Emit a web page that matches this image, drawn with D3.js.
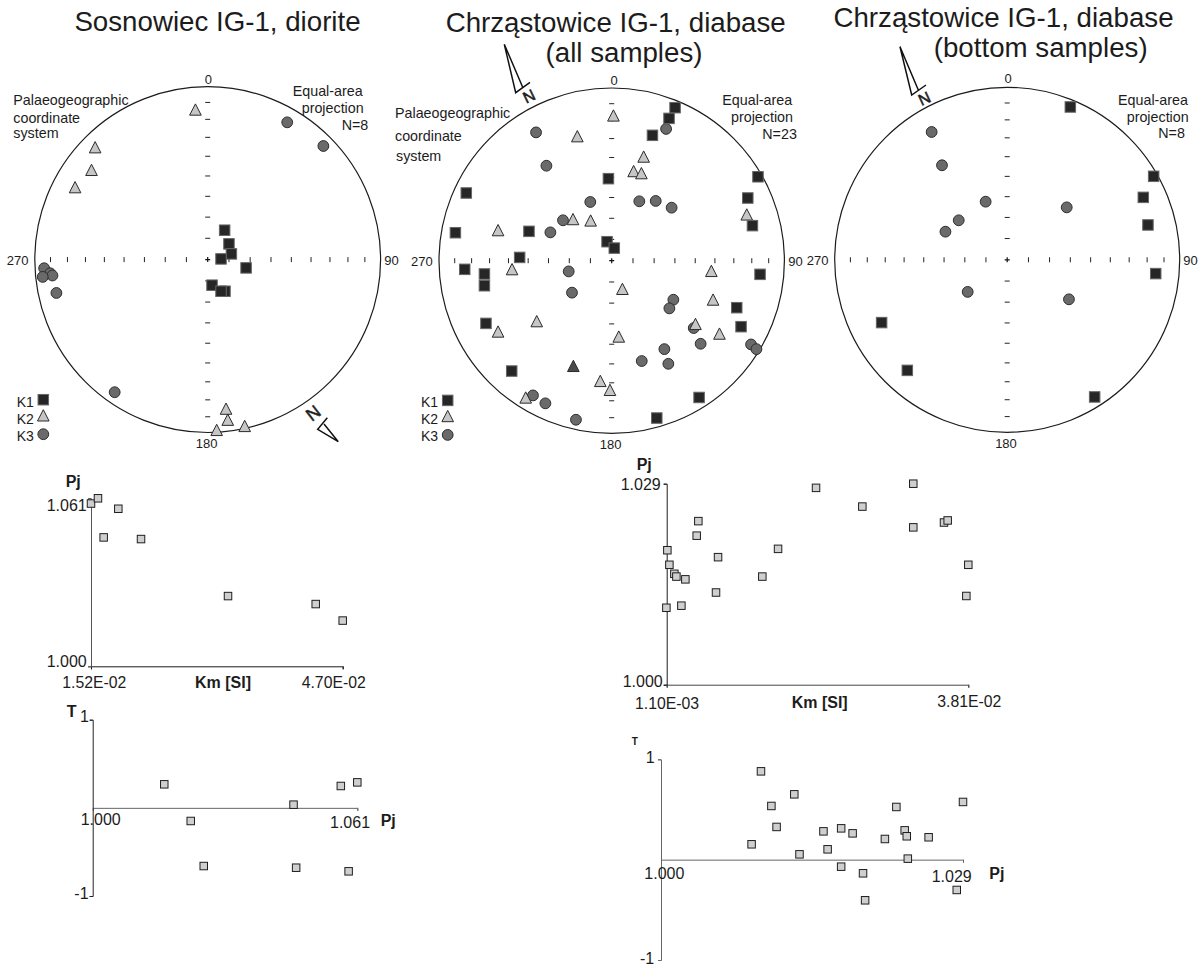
<!DOCTYPE html>
<html>
<head>
<meta charset="utf-8">
<title>AMS stereonets</title>
<script src="https://cdn.jsdelivr.net/npm/d3@7"></script>
<style>
body { margin:0; background:#fff; }
text { font-family:"Liberation Sans", Arial, sans-serif; fill:#1c1c1c; }
</style>
</head>
<body>
<svg id="chart"></svg>
<script>
// stereonet points, [east, north] as a fraction of the net radius
var sosK1 = [[.098,.170],[.123,.091],[.137,.033],[.077,.004],[.222,-.048],[.025,-.148],[.100,-.183],[.077,-.183]];
var sosK2 = [[-.071,.863],[-.651,.645],[-.672,.514],[-.767,.414],[.106,-.867],[.116,-.931],[.214,-.967],[.052,-.990]];
var sosK3 = [[.460,.794],[.669,.657],[-.946,-.050],[-.911,-.079],[-.898,-.092],[-.954,-.100],[-.875,-.193],[-.538,-.767]];

var allK1 = [[.367,.886],[.332,.824],[.236,.726],[-.019,.475],[.847,.486],[.788,.363],[.815,.203],[-.842,.392],[-.905,.162],[-.479,.170],[-.027,.110],[.015,.073],[-.533,.019],[-.851,-.050],[-.737,-.077],[-.737,-.145],[.859,-.079],[.724,-.272],[.749,-.382],[-.728,-.363],[-.579,-.639],[.506,-.792],[.261,-.911]];
var allK2 = [[.010,.836],[-.199,.716],[.185,.598],[.127,.514],[.172,.502],[.782,.263],[-.224,.236],[-.122,.228],[-.658,.172],[-.577,-.054],[.577,-.064],[.062,-.168],[.587,-.230],[-.434,-.355],[-.658,-.415],[.485,-.371],[.624,-.427],[.041,-.444],[-.222,-.614],[-.066,-.701],[-.010,-.753],[-.498,-.797]];
var allK3 = [[-.438,.743],[-.378,.550],[.315,.763],[-.124,.340],[.160,.344],[.255,.346],[.347,.307],[-.282,.234],[-.355,.164],[-.249,-.062],[-.230,-.185],[.357,-.226],[.334,-.276],[.475,-.390],[.515,-.481],[.807,-.485],[.838,-.512],[.305,-.512],[.174,-.581],[.328,-.597],[-.456,-.780],[-.384,-.826],[-.207,-.921]];

var botK1 = [[.366,.886],[.849,.484],[.789,.362],[.816,.202],[.861,-.080],[-.728,-.364],[-.579,-.641],[.507,-.795]];
var botK3 = [[-.438,.741],[-.378,.548],[-.125,.337],[-.281,.229],[-.358,.163],[.345,.304],[-.229,-.186],[.358,-.229]];

// inclinations marked along the net axes
var netTicks = [10,20,30,40,50,60,70,80];

// scatter values
var sosKm = [.0152,.01608,.01865,.0168,.02152,.03251,.04359,.0470];
var sosPjKm = [1.0591,1.061,1.0572,1.0468,1.0462,1.0255,1.0226,1.0166];
var sosPj = [1.0165,1.0572,1.061,1.0463,1.0226,1.0256,1.0469,1.0590];
var sosT = [.267,.248,.289,.036,-.149,-.660,-.679,-.720];

var diaKm = [.00118,.00143,.00204,.00229,.00339,.00290,.00106,.00478,.00498,.00740,.00715,.01283,.01476,.01942,.02510,.03135,.03135,.03512,.03557,.0381,.03786];
var diaPjKm = [1.0194,1.0173,1.0160,1.0156,1.0152,1.0114,1.0111,1.0215,1.0236,1.0184,1.0133,1.0156,1.0196,1.0284,1.0257,1.0290,1.0227,1.0234,1.0237,1.0173,1.0128];
var diaPj = [1.0096,1.0106,1.0128,1.0111,1.0087,1.0133,1.0156,1.0173,1.0184,1.0160,1.0173,1.0194,1.0196,1.0215,1.0226,1.0234,1.0236,1.0237,1.0257,1.0290,1.0284];
var diaT = [.880,.535,.651,.326,.153,.053,.282,.312,.262,.103,-.070,-.136,-.405,.206,.525,.292,.233,.010,.223,.575,-.302];

var svg = d3.select("#chart").attr("width",1202).attr("height",967).style("display","block");

var label = function(str, x, y, size, opts)
{
    opts = opts || {};
    return svg.append("text")
        .attr("x",x)
        .attr("y",y)
        .attr("font-size",size)
        .attr("font-weight",opts.bold ? "bold" : "normal")
        .attr("text-anchor",opts.anchor || "start")
        .text(str);
}

var square = function(g, x, y, s, fill, stroke)
{
    g.append("rect")
        .attr("x",x-s/2).attr("y",y-s/2)
        .attr("width",s).attr("height",s)
        .style("fill",fill).style("stroke",stroke).style("stroke-width",1);
}

var triangle = function(g, x, y, fill)
{
    g.append("path")
        .attr("d", d3.line()([[x,y-6.5],[x+5.8,y+4.8],[x-5.8,y+4.8]]) + "Z")
        .style("fill",fill).style("stroke","#2a2a2a").style("stroke-width",1);
}

var circle = function(g, x, y)
{
    g.append("circle")
        .attr("cx",x).attr("cy",y).attr("r",5.4)
        .style("fill","#6a6a6a").style("stroke","#2e2e2e").style("stroke-width",1);
}

var drawNet = function(cx, cy, R, k1, k2, k3)
{
    var g = svg.append("g");
    var xScale = d3.scaleLinear().domain([-1,1]).range([cx-R,cx+R]);
    var yScale = d3.scaleLinear().domain([-1,1]).range([cy+R,cy-R]);

    g.append("circle")
        .attr("cx",cx).attr("cy",cy).attr("r",R)
        .style("fill","none").style("stroke","#1c1c1c").style("stroke-width",1.2);

    // equal-area distance from the centre for each inclination
    netTicks.forEach(function(inc)
    {
        var r = Math.SQRT2*Math.sin((90-inc)/2*Math.PI/180);
        [-r,r].forEach(function(v)
        {
            g.append("line")
                .attr("x1",xScale(v)).attr("x2",xScale(v))
                .attr("y1",cy-2.5).attr("y2",cy+2.5)
                .style("stroke","#222");
            g.append("line")
                .attr("x1",cx-2.5).attr("x2",cx+2.5)
                .attr("y1",yScale(v)).attr("y2",yScale(v))
                .style("stroke","#222");
        });
    });
    g.append("path")
        .attr("d","M"+(cx-2.5)+","+cy+"H"+(cx+2.5)+"M"+cx+","+(cy-2.5)+"V"+(cy+2.5))
        .style("stroke","#111").style("stroke-width",1.2);

    k3.forEach(function(d){ circle(g, xScale(d[0]), yScale(d[1])); });
    k2.forEach(function(d)
    {
        // the one dark triangle in the lower half of the all-samples net
        var dark = (d[0]==-.222 && d[1]==-.614);
        triangle(g, xScale(d[0]), yScale(d[1]), dark ? "#4a4a4a" : "#c6c6c6");
    });
    k1.forEach(function(d){ square(g, xScale(d[0]), yScale(d[1]), 10.5, "#262626", "#666"); });
}

var drawLegend = function(textX, markX, baseY)
{
    var g = svg.append("g");
    label("K1", textX, baseY, 14);
    label("K2", textX, baseY+17, 14);
    label("K3", textX, baseY+34, 14);
    square(g, markX, baseY-7, 10.5, "#262626", "#666");
    triangle(g, markX, baseY+9.5, "#c6c6c6");
    circle(g, markX, baseY+27.5);
}

var drawNorth = function(tip, a, b, barEnd, nx, ny, rot, size)
{
    svg.append("path")
        .attr("d", d3.line()([tip,a,barEnd]) + "M" + tip + "L" + b)
        .style("fill","none").style("stroke","#111").style("stroke-width",1.5);
    svg.append("text")
        .attr("transform","translate("+nx+","+ny+") rotate("+rot+")")
        .attr("font-size",size)
        .attr("text-anchor","middle")
        .attr("dy","0.36em")
        .style("stroke","#1c1c1c")
        .style("stroke-width",0.5)
        .text("N");
}

var drawScatter = function(xs, ys, xDomain, yDomain, xRange, yRange, axisValue, axisColors)
{
    var g = svg.append("g");
    var xScale = d3.scaleLinear().domain(xDomain).range(xRange);
    var yScale = d3.scaleLinear().domain(yDomain).range(yRange);

    var xAxis = d3.axisBottom(xScale)
        .tickValues(axisValue===yDomain[0] ? xDomain : [xDomain[1]])
        .tickFormat("").tickSizeOuter(0).tickSize(3);
    var yAxis = d3.axisLeft(yScale)
        .tickValues(yDomain).tickFormat("").tickSizeOuter(0).tickSize(3);

    var xG = g.append("g").attr("transform","translate(0,"+yScale(axisValue)+")").call(xAxis);
    var yG = g.append("g").attr("transform","translate("+xRange[0]+",0)").call(yAxis);
    xG.selectAll("path,line").style("stroke",axisColors[0]);
    yG.selectAll("path,line").style("stroke",axisColors[1]);

    xs.forEach(function(v,i)
    {
        square(g, xScale(v), yScale(ys[i]), 7.5, "#cfcfcf", "#1e1e1e");
    });
}

// nets
drawNet(207.7,259.6,172.9, sosK1, sosK2, sosK3);
drawNet(611.7,260.7,172.7, allK1, allK2, allK3);
drawNet(1007.2,259.8,172.5, botK1, [], botK3);

drawLegend(16.7,43.3,406.7);
drawLegend(421,447.7,407.4);

drawNorth([338.3,441.7],[317.7,429.3],[324,424],[327.3,417.7],313.3,413.3,142,18);
drawNorth([504.3,44.3],[515.7,92.7],[522.7,87.3],[530,82.3],529,96,-26,16);
drawNorth([900,46.7],[911.7,95],[918.3,90],[926,85],924.3,98.3,-25,16);

// titles
label("Sosnowiec IG-1, diorite",217.5,31,27.7,{anchor:"middle"});
label("Chrząstowice IG-1, diabase",615.7,31.7,27.7,{anchor:"middle"});
label("(all samples)",624,62,27.7,{anchor:"middle"});
label("Chrząstowice IG-1, diabase",1003.5,26.7,27.7,{anchor:"middle"});
label("(bottom samples)",1040.7,57,27.7,{anchor:"middle"});

// net captions
label("0",208.3,83.7,13,{anchor:"middle"});
label("270",6.7,265,13);
label("90",384.3,265,13);
label("180",206.7,447.7,13,{anchor:"middle"});
label("Palaeogeographic",13.3,105,14.3);
label("coordinate",13.3,123,14.3);
label("system",13.3,138,14.3);
label("Equal-area",292.7,95.7,14.3);
label("projection",301.7,112.7,14.3);
label("N=8",341.7,130.3,14.3);

label("0",614,84.7,13,{anchor:"middle"});
label("270",411,265.7,13);
label("90",788.3,265.7,13);
label("180",610.7,448.7,13,{anchor:"middle"});
label("Palaeogeographic",395,117.7,14.3);
label("coordinate",395,140.7,14.3);
label("system",396,160.7,14.3);
label("Equal-area",722.3,104.7,14.3);
label("projection",731,122.3,14.3);
label("N=23",762.3,139.3,14.3);

label("0",1008,82.7,13,{anchor:"middle"});
label("270",806.7,265,13);
label("90",1183.3,265,13);
label("180",1006,447.7,13,{anchor:"middle"});
label("Equal-area",1118,104.7,14.3);
label("projection",1126.7,121.7,14.3);
label("N=8",1158.3,138.3,14.3);

// scatter plots
drawScatter(sosKm, sosPjKm, [.0152,.0470], [1,1.061], [91,342.7], [666.3,498.3], 1, ["#1c1c1c","#555"]);
drawScatter(sosPj, sosT, [1,1.061], [-1,1], [92.7,357.3], [896,719.7], 0, ["#666","#222"]);
drawScatter(diaKm, diaPjKm, [.0011,.0381], [1,1.029], [666.7,968.3], [684.7,483.7], 1, ["#444","#1c1c1c"]);
drawScatter(diaPj, diaT, [1,1.029], [-1,1], [661,963], [960,759.3], 0, ["#666","#666"]);

label("Pj",65.7,486.7,16,{bold:true});
label("1.061",46.7,511,16);
label("1.000",46.7,667.3,16);
label("1.52E-02",62.3,687.7,15.8);
label("Km [SI]",195,687.7,16,{bold:true});
label("4.70E-02",301.7,687.7,15.8);

label("T",66.7,716.7,16,{bold:true});
label("1",80,722,16);
label("-1",74.3,899.3,16);
label("1.000",80.7,825,16);
label("1.061",330,827.7,16);
label("Pj",380.7,825.7,16,{bold:true});

label("Pj",636.7,470,16,{bold:true});
label("1.029",620.7,490,16);
label("1.000",622.7,686.7,16);
label("1.10E-03",635,709,15.8);
label("Km [SI]",791.7,708.3,16,{bold:true});
label("3.81E-02",937.3,707.3,15.8);

label("T",631.7,744.7,10,{bold:true});
label("1",645.7,762.7,16);
label("-1",640,964,16);
label("1.000",644.3,879.3,16);
label("1.029",931.7,882,16);
label("Pj",989.3,878.7,16,{bold:true});
</script>
</body>
</html>
